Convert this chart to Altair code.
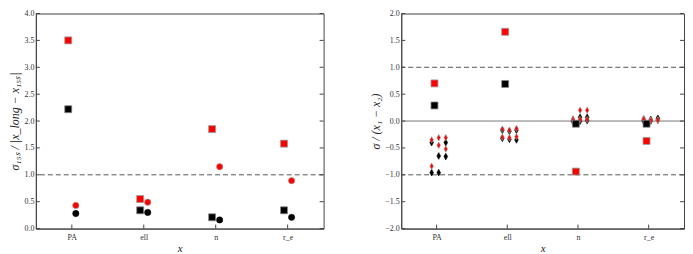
import altair as alt
import pandas as pd

# ---------------- data ----------------
categories = ["PA", "ell", "n", "r_e"]

# left panel: sigma_15s / |x_long - x_15s|
left_red_squares = [3.50, 0.55, 1.85, 1.58]
left_black_squares = [2.22, 0.34, 0.21, 0.34]
left_red_circles = [0.43, 0.49, 1.15, 0.89]
left_black_circles = [0.28, 0.30, 0.16, 0.21]

# right panel: sigma / (x1 - x2)
right_red_squares = [0.70, 1.66, -0.94, -0.37]
right_black_squares = [0.29, 0.69, -0.05, -0.05]

# diamonds: three columns per category, two values each
red_d1 = [[-0.35, -0.84], [-0.15, -0.30], [0.04, 0.01], [0.05, 0.03]]
red_d2 = [[-0.31, -0.45], [-0.17, -0.31], [0.20, 0.03], [0.02, 0.01]]
red_d3 = [[-0.31, -0.52], [-0.14, -0.29], [0.20, 0.03], [0.01, 0.02]]
black_d1 = [[-0.40, -0.96], [-0.17, -0.32], [0.02, -0.01], [0.02, 0.00]]
black_d2 = [[-0.65, -0.96], [-0.19, -0.34], [0.07, 0.00], [0.03, 0.00]]
black_d3 = [[-0.40, -0.66], [-0.17, -0.35], [0.07, 0.01], [0.05, 0.02]]

left_ticks = [0.0, 0.5, 1.0, 1.5, 2.0, 2.5, 3.0, 3.5, 4.0]
right_ticks = [-2.0, -1.5, -1.0, -0.5, 0.0, 0.5, 1.0, 1.5, 2.0]
left_dashed = [1.0]
right_dashed = [-1.0, 1.0]
right_solid = [0.0]

# ---------------- styling ----------------
LW, RW, H = 289, 284, 216
SERIF = "Liberation Serif"
SPINE = "#444444"
RED = "#ff0000"
DIAMOND = "M0,-1L0.55,0L0,1L-0.55,0Z"

# slot offsets (in category units) within each category
L_OFF = {"sq": -0.05, "ci": 0.055}
R_OFF = {"sq": -0.03, "d1": -0.07, "d2": 0.03, "d3": 0.13}


def rows(values, slot, color, offsets):
    return [
        {"x": i + 0.5 + offsets[slot], "y": v, "color": color}
        for i, v in enumerate(values)
    ]


def drows(nested, slot, color):
    out = []
    for i, vals in enumerate(nested):
        for v in vals:
            out.append({"x": i + 0.5 + R_OFF[slot], "y": v, "color": color})
    return out


label_expr = "[" + ",".join("'%s'" % c for c in categories) + "][floor(datum.value)]"
cat_positions = [i + 0.5 for i in range(len(categories))]


def xenc():
    return alt.X(
        "x:Q",
        scale=alt.Scale(domain=[0, 4], nice=False, zero=False),
        axis=alt.Axis(
            values=cat_positions, labelExpr=label_expr, ticks=False, grid=False,
            title="x", titleFontStyle="italic", titlePadding=1, labelPadding=5,
            labelOverlap=False,
        ),
    )


def yenc(domain, ticks, title):
    return alt.Y(
        "y:Q",
        scale=alt.Scale(domain=domain, nice=False, zero=False),
        axis=alt.Axis(
            values=ticks, format=".1f", ticks=False, grid=False, title=title,
            titleFontStyle="italic", titlePadding=2, labelPadding=2,
            labelOverlap=False, labelFlush=False, titleFontSize=12,
        ),
    )


def panel(domain, ticks, title, W, layers_data, dashed, solid):
    tick_df = pd.DataFrame({"y": ticks})
    xt_df = pd.DataFrame({"x": cat_positions})
    Y = lambda: yenc(domain, ticks, title)

    base_layers = []
    # reference lines
    base_layers.append(
        alt.Chart(pd.DataFrame({"y": dashed})).mark_rule(
            color="#555555", strokeDash=[5, 3], strokeWidth=1
        ).encode(y=Y())
    )
    if solid:
        base_layers.append(
            alt.Chart(pd.DataFrame({"y": solid})).mark_rule(
                color="#777777", strokeWidth=1
            ).encode(y=Y())
        )
    # inward ticks
    base_layers.append(
        alt.Chart(tick_df).mark_rule(color=SPINE, strokeWidth=1).encode(
            y=Y(), x=alt.value(0), x2=alt.value(4)
        )
    )
    base_layers.append(
        alt.Chart(tick_df).mark_rule(color=SPINE, strokeWidth=1).encode(
            y=Y(), x=alt.value(W - 4), x2=alt.value(W)
        )
    )
    base_layers.append(
        alt.Chart(xt_df).mark_rule(color=SPINE, strokeWidth=1).encode(
            x=xenc(), y=alt.value(H - 4), y2=alt.value(H)
        )
    )

    color_scale = alt.Scale(domain=["red", "black"], range=[RED, "#000000"])
    for df, shape, size, stroke, sw in layers_data:
        base_layers.append(
            alt.Chart(pd.DataFrame(df)).mark_point(
                shape=shape, filled=True, size=size, opacity=1,
                stroke=stroke, strokeWidth=sw,
            ).encode(
                x=xenc(),
                y=Y(),
                color=alt.Color("color:N", scale=color_scale, legend=None),
            )
        )
    return alt.layer(*base_layers).properties(width=W, height=H)


left_layers = [
    (rows(left_black_squares, "sq", "black", L_OFF), "square", 49, "#888888", 0.8),
    (rows(left_red_squares, "sq", "red", L_OFF), "square", 49, "#999999", 0.8),
    (rows(left_black_circles, "ci", "black", L_OFF), "circle", 40, "#000000", 0.5),
    (rows(left_red_circles, "ci", "red", L_OFF), "circle", 40, "#999999", 0.6),
]

right_layers = [
    (drows(black_d1, "d1", "black") + drows(black_d2, "d2", "black")
     + drows(black_d3, "d3", "black"), DIAMOND, 46, "#000000", 0.6),
    (drows(red_d1, "d1", "red") + drows(red_d2, "d2", "red")
     + drows(red_d3, "d3", "red"), DIAMOND, 42, "#999999", 0.6),
    (rows(right_black_squares, "sq", "black", R_OFF), "square", 49, "#888888", 0.8),
    (rows(right_red_squares, "sq", "red", R_OFF), "square", 49, "#999999", 0.8),
]

left = panel([0, 4], left_ticks, "σ₁₅ₛ / |x_long − x₁₅ₛ|", LW, left_layers,
             left_dashed, None)
right = panel([-2, 2], right_ticks, "σ / (x₁ − x₂)", RW, right_layers,
              right_dashed, right_solid)

chart = alt.hconcat(left, right, spacing=44).properties(
    padding={"left": 0, "top": 0, "right": 0, "bottom": 0}
).configure_view(stroke=SPINE, strokeWidth=1).configure_axis(
    domainColor=SPINE, labelFont=SERIF, titleFont=SERIF, labelFontSize=8,
    titleFontSize=11, titleFontWeight="normal", labelColor="#333333",
    titleColor="#222222",
)

chart.save("out.html", embed_options={"renderer": "svg", "actions": False})
